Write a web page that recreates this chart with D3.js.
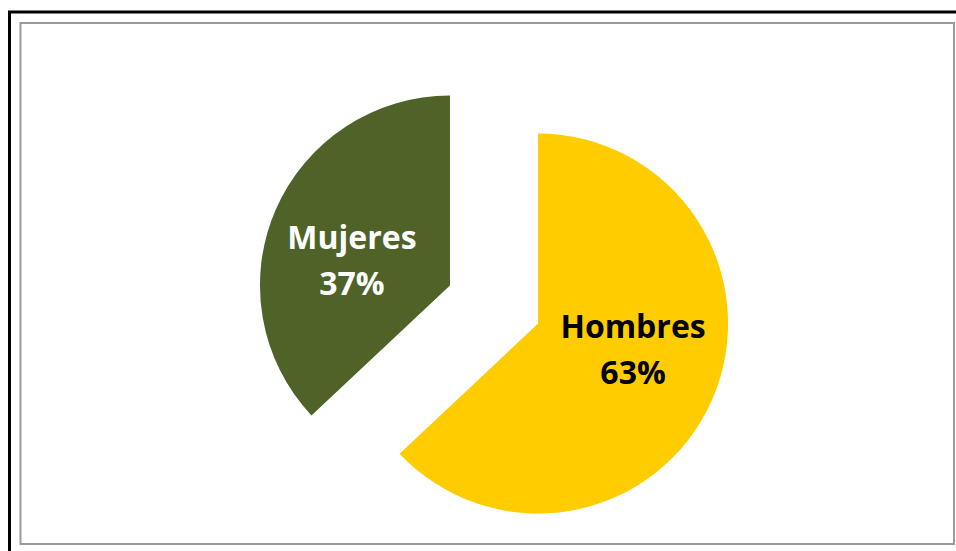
<!DOCTYPE html>
<html><head><meta charset="utf-8">
<script src="https://cdn.jsdelivr.net/npm/d3@7"></script>
<style>html,body{margin:0;padding:0;background:#fff;}</style>
</head><body>
<script>
const categories = ["Hombres", "Mujeres"];
const values = [63, 37];
const labels = ["63%", "37%"];
const colors = ["#FFCC00", "#4F6228"];
const textColors = ["#000000", "#FFFFFF"];

const W = 956, H = 551;
const svg = d3.select("body").append("svg").attr("width", W).attr("height", H);

// outer black frame (top & left)
svg.append("line").attr("x1", 8).attr("x2", 956).attr("y1", 12).attr("y2", 12).attr("stroke", "#000").attr("stroke-width", 3);
svg.append("line").attr("x1", 9.5).attr("x2", 9.5).attr("y1", 11).attr("y2", 551).attr("stroke", "#000").attr("stroke-width", 3);
// inner gray chart frame
svg.append("rect").attr("x", 20.5).attr("y", 23).attr("width", 933.5).attr("height", 521)
  .attr("fill", "#fff").attr("stroke", "#999").attr("stroke-width", 2);

const cx = 494, cy = 304.5, r = 190, explode = 48;
const pie = d3.pie().sort(null).value(d => d.v);
const arcs = pie(categories.map((c, i) => ({c, v: values[i], i})));
const arc = d3.arc().innerRadius(0).outerRadius(r);

const g = svg.append("g").attr("transform", `translate(${cx},${cy})`);
arcs.forEach((a, i) => {
  const mid = (a.startAngle + a.endAngle) / 2;
  const dx = Math.sin(mid) * explode, dy = -Math.cos(mid) * explode;
  const sg = g.append("g").attr("transform", `translate(${dx},${dy})`);
  sg.append("path").attr("d", arc(a)).attr("fill", colors[i]);
  const t = sg.append("text")
    .attr("text-anchor", "middle")
    .attr("font-family", "'Open Sans', sans-serif")
    .attr("font-weight", "bold").attr("font-size", 32)
    .attr("fill", textColors[i]);
  const lx = i === 0 ? 95 : -98, ly = i === 0 ? 14 : -36;
  t.append("tspan").attr("x", lx).attr("y", ly).text(categories[i]);
  t.append("tspan").attr("x", lx).attr("y", ly + 46).text(labels[i]);
});
</script>
</body></html>
